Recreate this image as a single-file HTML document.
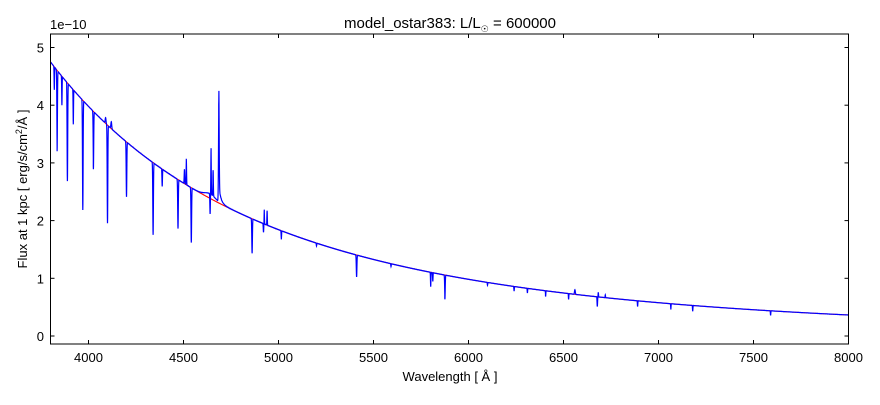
<!DOCTYPE html>
<html><head><meta charset="utf-8"><style>
body{margin:0;background:#fff;}
svg text{font-family:"Liberation Sans","DejaVu Sans",sans-serif;font-size:13px;fill:#000;}
</style></head><body>
<svg id="s" width="880" height="400" xmlns="http://www.w3.org/2000/svg">
<rect width="880" height="400" fill="#fff"/>
<clipPath id="c"><rect x="50.5" y="34" width="798" height="310"/></clipPath>
<g clip-path="url(#c)"><path id="red" fill="none" stroke="#f00" stroke-width="1"/><path id="blue" fill="none" stroke="#00f" stroke-width="1.2"/></g>
<rect x="50.5" y="34" width="798" height="310" fill="none" stroke="#000" stroke-width="1"/>
<g id="ticks" stroke="#000" stroke-width="1"></g>
<g id="labs"></g>
<text x="50" y="29">1e−10</text>
<text x="450" y="28" text-anchor="middle" style="font-size:15px">model_ostar383: L/L<tspan style="font-size:9px" dy="4">☉</tspan><tspan dy="-4"> = 600000</tspan></text>
<text x="450" y="381" text-anchor="middle">Wavelength [ Å ]</text>
<text transform="translate(27,189) rotate(-90)" text-anchor="middle">Flux at 1 kpc [ erg/s/cm<tspan style="font-size:9px" dy="-5">2</tspan><tspan dy="5">/Å ]</tspan></text>
</svg>
<script>
var X=function(l){return 50.5+(l-3800)*0.19;},Y=function(f){return 336-f*57.7;};
function cont(l){return 4.75*Math.pow(3800/l,3.45);}
var feats=[[3820,-0.4,1],[3835,-1.4,1.5],[3860,-0.5,1],[3889,-1.7,1.5],[3920,-0.6,1],[3970,-1.9,1.5],[4026,-1.0,1.5],[4090,0.1,2],[4100,-1.7,1.5],[4120,0.12,2],[4200,-0.95,1.5],[4340,-1.25,1.5],[4388,-0.3,1.2],[4471,-0.85,1.5],[4505,0.25,1.5],[4515,0.45,1.2],[4541,-0.95,1.5],[4640,-0.35,1.2],[4645,0.8,1.2],[4656,0.45,1.2],[4686,1.75,1.8],[4861,-0.6,1.5],[4921,-0.15,1.2],[4925,0.25,1],[4940,0.25,1],[5015,-0.15,1.2],[5200,-0.05,1],[5411,-0.38,1.5],[5592,-0.05,1],[5801,-0.25,1],[5812,-0.15,1],[5876,-0.42,1.5],[6100,-0.05,1],[6240,-0.08,1],[6310,-0.08,1],[6406,-0.1,1],[6527,-0.1,1],[6560,0.08,2],[6678,-0.17,1.2],[6683,0.08,1],[6720,0.05,1],[6890,-0.1,1],[7065,-0.1,1],[7180,-0.1,1],[7590,-0.08,1]];
var r="",b="";
for(var l=3800;l<=8000;l+=0.5){var c=cont(l);r+=(l==3800?"M":"L")+X(l).toFixed(1)+","+Y(c).toFixed(1);
var f=c;for(var i=0;i<feats.length;i++){var d=(l-feats[i][0])/feats[i][2];if(Math.abs(d)<6)f+=feats[i][1]*Math.exp(-d*d/2);}
var d2=l-4686;if(d2>0&&d2<80)f+=0.25*Math.exp(-d2/12);
if(l>4550&&l<4700)f+=0.08*Math.exp(-Math.pow((l-4640)/40,2));
b+=(l==3800?"M":"L")+X(l).toFixed(1)+","+Y(f).toFixed(1);}
document.getElementById("red").setAttribute("d",r);
document.getElementById("blue").setAttribute("d",b);
var t="",lb="";
for(var l=4000;l<=8000;l+=500){var x=X(l);t+='<line x1="'+x+'" y1="344" x2="'+x+'" y2="340"/><line x1="'+x+'" y1="34" x2="'+x+'" y2="38"/>';lb+='<text x="'+x+'" y="362" text-anchor="middle">'+l+'</text>';}
for(var v=0;v<=5;v++){var y=Y(v);t+='<line x1="50.5" y1="'+y+'" x2="54.5" y2="'+y+'"/><line x1="848.5" y1="'+y+'" x2="844.5" y2="'+y+'"/>';lb+='<text x="44" y="'+(y+5)+'" text-anchor="end">'+v+'</text>';}
document.getElementById("ticks").innerHTML=t;document.getElementById("labs").innerHTML=lb;
</script>
</body></html>
